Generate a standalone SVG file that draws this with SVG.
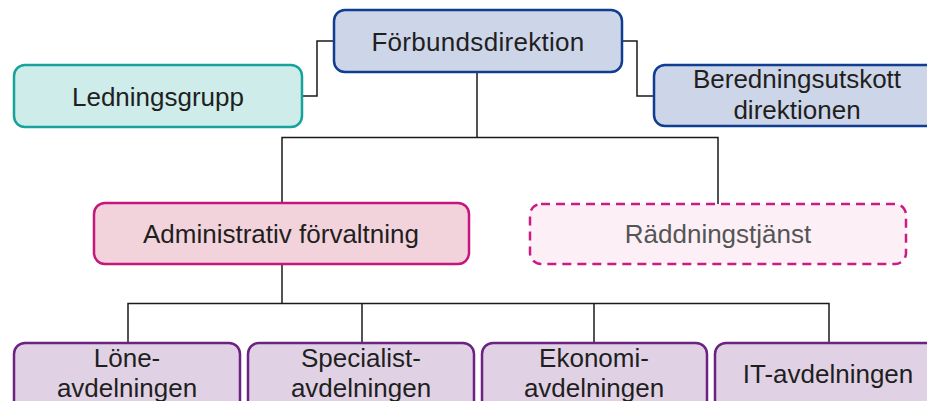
<svg xmlns="http://www.w3.org/2000/svg" width="927" height="401" viewBox="0 0 927 401">
<style>
  text { font-family: "Liberation Sans", Arial, sans-serif; font-size: 26px; fill: #1f1f1f; text-anchor: middle; }
  .box { stroke-width: 2.5; }
  .blue { fill: #cdd5e8; stroke: #0f3d91; }
  .teal { fill: #cdecea; stroke: #17a39b; }
  .pink { fill: #f2d3dc; stroke: #c8157b; }
  .dash { fill: #fcf0f6; stroke: #cc1b84; stroke-dasharray: 9 6; }
  .purple { fill: #e0d2e4; stroke: #6c2283; }
  .conn { fill: none; stroke: #1a1a1a; stroke-width: 1.5; }
</style>
<rect width="927" height="401" fill="#ffffff"/>
<g id="connectors" class="conn">
  <polyline points="302,96 317,96 317,41 334,41"/>
  <polyline points="622,41 637,41 637,96 654,96"/>
  <line x1="477" y1="72" x2="477" y2="137.5"/>
  <polyline points="282,204 282,137.5 718,137.5 718,204"/>
  <line x1="282" y1="264" x2="282" y2="303.5"/>
  <polyline points="128,343 128,303.5 829,303.5 829,343"/>
  <line x1="362" y1="303.5" x2="362" y2="343"/>
  <line x1="594" y1="303.5" x2="594" y2="343"/>
</g>
<g id="forbundsdirektion">
  <rect class="box blue" x="334" y="10" width="288" height="62" rx="11"/>
  <text x="478" y="51" style="letter-spacing:0.3px">Förbundsdirektion</text>
</g>
<g id="ledningsgrupp">
  <rect class="box teal" x="14" y="65" width="288" height="62" rx="11"/>
  <text x="158" y="106">Ledningsgrupp</text>
</g>
<g id="beredningsutskott">
  <rect class="box blue" x="654" y="65" width="288" height="61" rx="11"/>
  <text x="797" y="88">Beredningsutskott</text>
  <text x="797" y="119">direktionen</text>
</g>
<g id="administrativ">
  <rect class="box pink" x="94" y="203" width="375" height="61" rx="11"/>
  <text x="281" y="243">Administrativ förvaltning</text>
</g>
<g id="raddningstjanst">
  <rect class="box dash" x="530" y="204" width="376" height="60" rx="11"/>
  <text x="718" y="243" style="fill:#555555">Räddningstjänst</text>
</g>
<g id="lone">
  <rect class="box purple" x="14" y="343" width="226" height="70" rx="11"/>
  <text x="127" y="367">Löne-</text>
  <text x="127" y="397">avdelningen</text>
</g>
<g id="specialist">
  <rect class="box purple" x="248" y="343" width="226" height="70" rx="11"/>
  <text x="361" y="367">Specialist-</text>
  <text x="361" y="397">avdelningen</text>
</g>
<g id="ekonomi">
  <rect class="box purple" x="482" y="343" width="225" height="70" rx="11"/>
  <text x="594" y="367">Ekonomi-</text>
  <text x="594" y="397">avdelningen</text>
</g>
<g id="it">
  <rect class="box purple" x="715" y="343" width="226" height="70" rx="11"/>
  <text x="828" y="383">IT-avdelningen</text>
</g>
</svg>
